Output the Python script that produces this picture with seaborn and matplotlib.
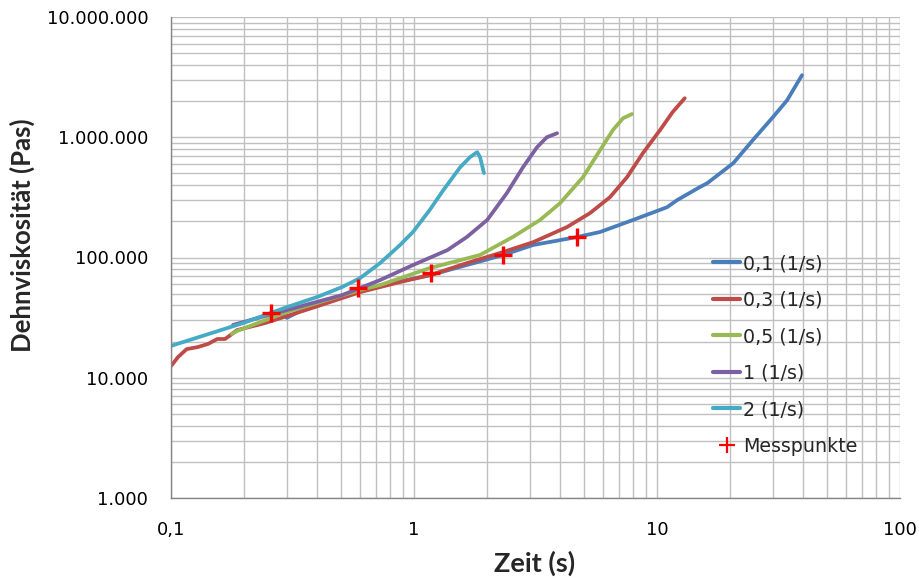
import numpy as np
import pandas as pd
import matplotlib
matplotlib.use("Agg")
import matplotlib.pyplot as plt
from matplotlib.ticker import FuncFormatter, LogLocator, NullFormatter
from matplotlib.lines import Line2D
import seaborn as sns

# ---- data ----
t_01 = [0.28, 0.29, 0.30, 0.35, 0.588, 1.17, 2.32, 3.09, 4.69, 5.83, 7.96, 11.0, 12.1, 15.0, 16.1, 20.6, 24.8, 30.0, 34.3, 39.5]
v_01 = [36000, 33000, 31500, 37000, 53600, 71500, 104700, 127000, 148000, 163000, 205000, 262000, 300000, 385000, 415000, 609000, 947000, 1470000, 2030000, 3280000]

t_03 = [0.1, 0.107, 0.116, 0.129, 0.142, 0.155, 0.167, 0.178, 0.187, 0.244, 0.391, 0.60, 0.876, 1.17, 1.65, 2.26, 3.09, 4.26, 5.30, 6.41, 7.53, 8.75, 10.3, 11.6, 13.0]
v_03 = [12500, 14900, 17300, 18000, 19100, 21000, 21000, 23100, 24900, 28500, 38700, 51500, 62500, 71500, 89800, 109000, 134000, 179000, 234000, 318000, 466000, 738000, 1150000, 1620000, 2110000]

t_05 = [0.178, 0.187, 0.300, 0.60, 0.725, 1.16, 1.87, 2.55, 3.30, 3.99, 4.96, 5.83, 6.59, 7.25, 7.89]
v_05 = [23100, 24500, 35200, 53600, 59000, 81600, 105000, 148000, 205000, 283000, 466000, 781000, 1150000, 1440000, 1560000]

t_1 = [0.180, 0.300, 0.506, 0.725, 0.99, 1.37, 1.65, 2.0, 2.41, 2.81, 3.21, 3.52, 3.88]
v_1 = [27500, 36600, 48700, 64900, 86500, 115000, 148000, 205000, 343000, 564000, 827000, 1000000, 1080000]

t_2 = [0.1, 0.198, 0.300, 0.399, 0.506, 0.600, 0.725, 0.876, 0.99, 1.16, 1.32, 1.55, 1.70, 1.82, 1.87, 1.94]
v_2 = [18400, 28500, 38700, 46900, 56800, 67400, 89800, 127000, 163000, 248000, 363000, 564000, 683000, 752000, 683000, 504000]

mess_t = [0.258, 0.588, 1.17, 2.32, 4.69]
mess_v = [34500, 55700, 74100, 104700, 148000]

series_names = ["0,1 (1/s)", "0,3 (1/s)", "0,5 (1/s)", "1 (1/s)", "2 (1/s)"]
series_t = [t_01, t_03, t_05, t_1, t_2]
series_v = [v_01, v_03, v_05, v_1, v_2]
colors = ["#4A7EBB", "#BE4B48", "#98B954", "#7D60A0", "#46AAC5"]

frames = []
for name, t, v in zip(series_names, series_t, series_v):
    frames.append(pd.DataFrame({"Zeit": t, "Visk": v, "Serie": name}))
df = pd.concat(frames, ignore_index=True)
df_m = pd.DataFrame({"Zeit": mess_t, "Visk": mess_v})

sns.set_theme(style="white")
plt.rcParams["font.family"] = ["DejaVu Sans"]

fig = plt.figure(figsize=(9.2, 5.8), dpi=100)
ax = fig.add_axes([171 / 920, 1 - 498 / 580, (900 - 171) / 920, (498 - 17) / 580])

sns.lineplot(data=df, x="Zeit", y="Visk", hue="Serie", palette=colors,
             hue_order=series_names, sort=False, estimator=None, units="Serie",
             linewidth=2.7, ax=ax, legend=False)
sns.scatterplot(data=df_m, x="Zeit", y="Visk", marker="+", color="#FF0000",
                s=170, linewidth=2.4, ax=ax, zorder=5, legend=False)

ax.set_xscale("log")
ax.set_yscale("log")
ax.set_xlim(0.1, 100)
ax.set_ylim(1000, 10_000_000)

ax.xaxis.set_major_locator(LogLocator(base=10))
ax.xaxis.set_minor_locator(LogLocator(base=10, subs=np.arange(2, 10)))
ax.yaxis.set_major_locator(LogLocator(base=10))
ax.yaxis.set_minor_locator(LogLocator(base=10, subs=np.arange(2, 10)))
ax.xaxis.set_minor_formatter(NullFormatter())
ax.yaxis.set_minor_formatter(NullFormatter())

def xfmt(v, pos):
    return ("%g" % v).replace(".", ",")

def yfmt(v, pos):
    return f"{int(round(v)):,}".replace(",", ".")

ax.xaxis.set_major_formatter(FuncFormatter(xfmt))
ax.yaxis.set_major_formatter(FuncFormatter(yfmt))

grid_c = "#C0C0C0"
ax.grid(True, which="major", color=grid_c, linewidth=1.0)
ax.grid(True, which="minor", color=grid_c, linewidth=1.0)
ax.set_axisbelow(True)

for s in ["top", "right"]:
    ax.spines[s].set_visible(False)
for s in ["left", "bottom"]:
    ax.spines[s].set_color("#868686")
    ax.spines[s].set_linewidth(1.0)

ax.tick_params(axis="both", which="major", direction="out", length=5.8, width=1,
               color="#868686", labelsize=13, labelcolor="black")
ax.tick_params(axis="y", which="major", pad=10.5)
ax.tick_params(axis="x", which="major", pad=11)
ax.tick_params(axis="both", which="minor", length=0)

ax.set_xlabel("Zeit (s)", fontsize=19.5, fontweight="bold", family=["Lato", "DejaVu Sans"])
ax.set_ylabel("Dehnviskosität (Pas)", fontsize=18.5, fontweight="bold", family=["Lato", "DejaVu Sans"])
ax.xaxis.set_label_coords((535 - 171) / 729, -(551 - 498) / 481)
ax.yaxis.set_label_coords(-(171 - 35) / 729, (498 - 235) / 481)

handles = [Line2D([0], [0], color=c, lw=3) for c in colors]
handles.append(Line2D([0], [0], color="#FF0000", marker="+", lw=0, markersize=11, mew=1.6))
labels = series_names + ["Messpunkte"]
ax.legend(handles, labels, loc="upper left",
          bbox_to_anchor=(713 / 920, 1 - 254 / 580), bbox_transform=fig.transFigure,
          frameon=False, fontsize=13.7, handlelength=1.42, handletextpad=0.16,
          labelspacing=0.92, borderaxespad=0, borderpad=0)

fig.savefig("out.png", dpi=100)
